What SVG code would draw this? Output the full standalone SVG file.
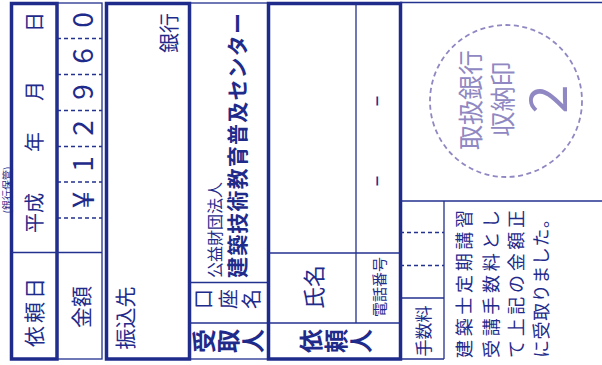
<svg xmlns="http://www.w3.org/2000/svg" width="602" height="365" viewBox="0 0 602 365">
<style>
.thick{fill:none;stroke:#1f2b8b;stroke-width:3.5}
.thin{fill:none;stroke:#23318f;stroke-width:1.3}
.dash{stroke-dasharray:4 3}
.t{font-family:"Noto Sans CJK JP","Noto Sans CJK SC",sans-serif;fill:#1f2b8b;text-anchor:middle;dominant-baseline:central}
.s{text-anchor:start}
.b{font-weight:bold}
.p{fill:#8f88c2}
</style>
<rect width="602" height="365" fill="#ffffff"/>
<text class="t" font-size="10" transform="translate(6.5,190) rotate(-90)">(銀行保管)</text>
<g id="date-box">
<rect class="thick" x="11.5" y="3.5" width="45.5" height="355.5"/>
<line class="thin" x1="11.5" y1="252.5" x2="57" y2="252.5"/>
<text class="t" font-size="21" letter-spacing="3" transform="translate(33,311) rotate(-90)">依頼日</text>
<text class="t" font-size="20" transform="translate(33,213) rotate(-90)">平成</text>
<text class="t" font-size="20" transform="translate(33,142) rotate(-90)">年</text>
<text class="t" font-size="20" transform="translate(33,91) rotate(-90)">月</text>
<text class="t" font-size="20" transform="translate(33,22) rotate(-90)">日</text>
</g>
<g id="amount-box">
<rect class="thin" x="57" y="3" width="45" height="356"/>
<line class="thin" x1="57" y1="252.5" x2="102" y2="252.5"/>
<g class="thin dash">
<line x1="57" y1="38.5" x2="102" y2="38.5"/>
<line x1="57" y1="74.5" x2="102" y2="74.5"/>
<line x1="57" y1="110.5" x2="102" y2="110.5"/>
<line x1="57" y1="146.5" x2="102" y2="146.5"/>
<line x1="57" y1="182" x2="102" y2="182"/>
<line x1="57" y1="218" x2="102" y2="218"/>
</g>
<text class="t" font-size="21" transform="translate(80,307) rotate(-90)">金額</text>
<text class="t" font-size="28" transform="translate(81,20) rotate(-90)">0</text>
<text class="t" font-size="28" transform="translate(81,56) rotate(-90)">6</text>
<text class="t" font-size="28" transform="translate(81,92) rotate(-90)">9</text>
<text class="t" font-size="28" transform="translate(81,128) rotate(-90)">2</text>
<text class="t" font-size="28" transform="translate(81,164) rotate(-90)">1</text>
<text class="t" font-size="30" transform="translate(81,200) rotate(-90)">¥</text>
</g>
<g id="payee-box">
<rect class="thick" x="106.5" y="3.5" width="83" height="355.5"/>
<text class="t" font-size="21" transform="translate(124,318) rotate(-90)">振込先</text>
<text class="t" font-size="20" transform="translate(168,33) rotate(-90)">銀行</text>
</g>
<g id="account-box">
<rect class="thin" x="190" y="3" width="78" height="356"/>
<line class="thin" x1="190" y1="282.5" x2="268" y2="282.5"/>
<line class="thin" x1="190" y1="323" x2="268" y2="323"/>
<text class="t s" font-size="16" transform="translate(213.5,278) rotate(-90)">公益財団法人</text>
<text class="t s b" font-size="21" textLength="265" lengthAdjust="spacing" transform="translate(236,278) rotate(-90)">建築技術教育普及センター</text>
<text class="t" font-size="20" transform="translate(202,299) rotate(-90)">口</text>
<text class="t" font-size="20" transform="translate(227,299) rotate(-90)">座</text>
<text class="t" font-size="20" transform="translate(250,299) rotate(-90)">名</text>
<text class="t b" font-size="24" transform="translate(202,341) rotate(-90)">受</text>
<text class="t b" font-size="24" transform="translate(226,341) rotate(-90)">取</text>
<text class="t b" font-size="24" transform="translate(251,341) rotate(-90)">人</text>
</g>
<g id="requester-box">
<rect class="thick" x="268.5" y="3.5" width="132" height="355.5"/>
<line class="thin" x1="356" y1="3.5" x2="356" y2="323"/>
<line class="thin" x1="268.5" y1="253" x2="400.5" y2="253"/>
<line class="thin" x1="268.5" y1="323" x2="400.5" y2="323"/>
<text class="t" font-size="22" transform="translate(312,287) rotate(-90)">氏名</text>
<text class="t" font-size="15" transform="translate(378,287) rotate(-90)">電話番号</text>
<text class="t b" font-size="11" transform="translate(377,101) rotate(-90)">ー</text>
<text class="t b" font-size="11" transform="translate(377,181) rotate(-90)">ー</text>
<text class="t b" font-size="24" transform="translate(309,341) rotate(-90)">依</text>
<text class="t b" font-size="24" transform="translate(334,341) rotate(-90)">頼</text>
<text class="t b" font-size="24" transform="translate(359,341) rotate(-90)">人</text>
</g>
<g id="fee-box">
<line class="thin" x1="400" y1="2.5" x2="602" y2="2.5"/>
<line class="thin" x1="400" y1="201" x2="602" y2="201"/>
<line class="thin" x1="444" y1="201" x2="444" y2="359"/>
<line class="thin" x1="400" y1="359" x2="444" y2="359"/>
<line class="thin" x1="400" y1="298" x2="444" y2="298"/>
<line class="thin dash" x1="400" y1="232.5" x2="444" y2="232.5"/>
<line class="thin dash" x1="400" y1="265.5" x2="444" y2="265.5"/>
<text class="t" font-size="17" transform="translate(422,331) rotate(-90)">手数料</text>
</g>
<g id="stamp">
<circle cx="506" cy="101" r="76" fill="none" stroke="#8f88c2" stroke-width="1.8" stroke-dasharray="5 3.5"/>
<text class="t p" font-size="25" transform="translate(469,100) rotate(-90)">取扱銀行</text>
<text class="t p" font-size="25" transform="translate(501,99) rotate(-90)">収納印</text>
<text class="t p" font-size="52" transform="translate(544,99) rotate(-90)">2</text>
</g>
<g id="receipt-text">
<text class="t s" font-size="18" textLength="148" lengthAdjust="spacing" transform="translate(463,358) rotate(-90)">建築士定期講習</text>
<text class="t s" font-size="18" textLength="148" lengthAdjust="spacing" transform="translate(490,358) rotate(-90)">受講手数料とし</text>
<text class="t s" font-size="18" textLength="148" lengthAdjust="spacing" transform="translate(515,358) rotate(-90)">て上記の金額正</text>
<text class="t s" font-size="18" textLength="148" lengthAdjust="spacing" transform="translate(540,358) rotate(-90)">に受取りました。</text>
</g>
<g id="connectors"/>
</svg>
